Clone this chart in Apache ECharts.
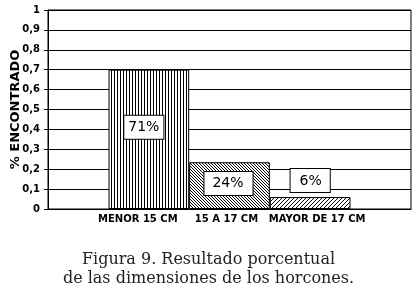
<!DOCTYPE html>
<html>
<head>
<meta charset="utf-8">
<script src="https://cdn.jsdelivr.net/npm/echarts@6/dist/echarts.min.js"></script>
<style>
  html, body { margin: 0; padding: 0; background: #fff; }
  #chart { width: 417px; height: 295px; }
</style>
</head>
<body>
<div id="chart"></div>
<script>
// datos
const categories = ["MENOR 15 CM", "15 A 17 CM", "MAYOR DE 17 CM"];
const values = [0.70, 0.235, 0.06];
const valueLabels = ["71%", "24%", "6%"];
const caption = ["Figura 9. Resultado porcentual", "de las dimensiones de los horcones."];

// tramas de relleno (rayado) como en el original
function makePattern(kind) {
  const s = kind === "vert" ? 3 : (kind === "back" ? 3 : 4);
  const c = document.createElement("canvas");
  c.width = s;
  c.height = s;
  const ctx = c.getContext("2d");
  ctx.fillStyle = "#fff";
  ctx.fillRect(0, 0, s, s);
  ctx.fillStyle = "#000";
  for (let i = 0; i < s; i++) {
    if (kind === "vert") ctx.fillRect(0, i, 1, 1);
    else if (kind === "back") ctx.fillRect(i, i, 1, 1);
    else ctx.fillRect(s - 1 - i, i, 1, 1);
  }
  return { image: c, repeat: "repeat" };
}
const patterns = [makePattern("vert"), makePattern("back"), makePattern("fwd")];
const labelPos = [
  { position: "inside", offset: [-5, -12], padding: [5, 4, 4, 4] },
  { position: "inside", offset: [-1, -2], padding: [5, 9, 4, 8] },
  { position: "top", distance: 5, padding: [5, 8, 4, 9] }
];
// las etiquetas del eje no quedan centradas bajo las barras en el original
const catPadding = [[0, 22, 0, 0], [0, 6, 0, 0], [0, 0, 0, 14]];

// eje de categorías con huecos para dejar margen a los lados
const axisData = ["", ""];
const seriesData = ["-", "-"];
categories.forEach((name, i) => {
  axisData.push({ value: name, textStyle: { padding: catPadding[i] } });
  seriesData.push({
    value: values[i],
    itemStyle: { color: patterns[i] },
    label: Object.assign({ formatter: valueLabels[i] }, labelPos[i])
  });
  axisData.push("");
  seriesData.push("-");
});
axisData.push("");
seriesData.push("-");

const myChart = echarts.init(document.getElementById("chart"));
myChart.setOption({
  animation: false,
  title: {
    text: caption.join("\n"),
    left: "center",
    top: 245,
    textStyle: {
      fontFamily: "DejaVu Serif",
      fontSize: 16,
      fontWeight: "normal",
      color: "#222",
      lineHeight: 19
    }
  },
  grid: {
    left: 48,
    right: 6,
    top: 10,
    bottom: 86,
    outerBoundsMode: "none",
    containLabel: false,
    show: true,
    borderColor: "#000",
    borderWidth: 1
  },
  xAxis: {
    type: "category",
    data: axisData,
    boundaryGap: true,
    axisLine: { lineStyle: { color: "#000" } },
    axisTick: { show: false },
    axisLabel: {
      interval: 0,
      margin: 5,
      color: "#000",
      fontFamily: "DejaVu Sans",
      fontWeight: "bold",
      fontSize: 10
    }
  },
  yAxis: {
    type: "value",
    min: 0,
    max: 1,
    interval: 0.1,
    name: "% ENCONTRADO",
    nameLocation: "middle",
    nameGap: 26,
    nameRotate: 90,
    nameMoveOverlap: false,
    nameTextStyle: {
      color: "#000",
      fontFamily: "DejaVu Sans",
      fontWeight: "bold",
      fontSize: 13
    },
    axisLine: { show: true, lineStyle: { color: "#000" } },
    axisTick: { show: true, length: 4, lineStyle: { color: "#000" } },
    splitLine: { show: true, lineStyle: { color: "#000", width: 1 } },
    axisLabel: {
      margin: 8,
      color: "#000",
      fontFamily: "DejaVu Sans",
      fontWeight: "bold",
      fontSize: 10,
      formatter: (v) => String(Math.round(v * 10) / 10).replace(".", ",")
    }
  },
  series: [
    {
      type: "bar",
      barWidth: "200%",
      data: seriesData,
      itemStyle: { borderColor: "#000", borderWidth: 1 },
      label: {
        show: true,
        color: "#000",
        fontFamily: "DejaVu Sans",
        fontSize: 14,
        backgroundColor: "#fff",
        borderColor: "#000",
        borderWidth: 1
      }
    }
  ]
});
window.addEventListener("resize", function () {
  myChart.resize();
});
</script>
</body>
</html>
